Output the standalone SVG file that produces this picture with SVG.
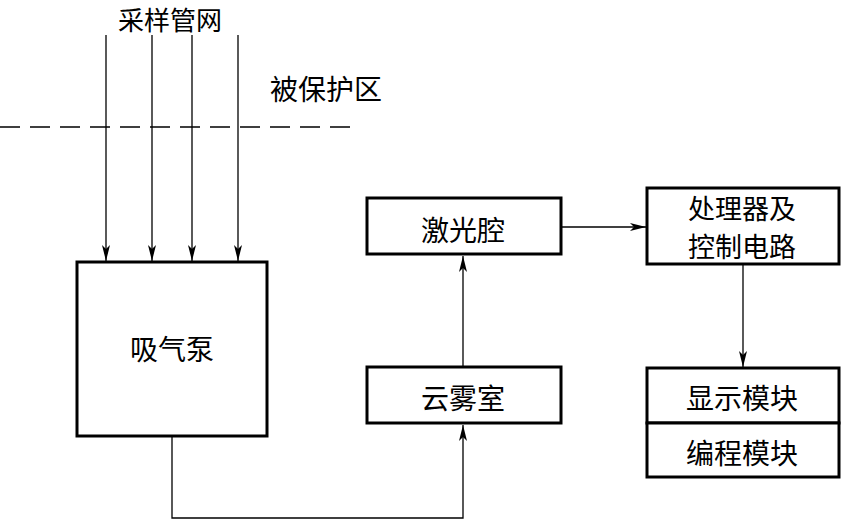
<svg xmlns="http://www.w3.org/2000/svg" width="841" height="520" viewBox="0 0 841 520">
<style>
.box{fill:#fff;stroke:#000;stroke-width:3}
.ln{fill:none;stroke:#000;stroke-width:1.3}
.t{font-family:"Noto Sans CJK SC","Noto Sans",sans-serif;font-size:28px;fill:#000;text-anchor:middle;dominant-baseline:central}
</style>
<defs>
<marker id="ah" viewBox="0 0 16 8" refX="16" refY="4" markerWidth="16" markerHeight="8" markerUnits="userSpaceOnUse" orient="auto">
<path d="M0,0 L16,4 L0,8 L4,4 Z" fill="#000"/>
</marker>
</defs>
<rect width="841" height="520" fill="#fff"/>
<text class="t" x="170" y="18" style="font-size:26px">采样管网</text>
<text class="t" x="326" y="88">被保护区</text>
<line x1="0" y1="127" x2="353" y2="127" stroke="#000" stroke-width="1.3" stroke-dasharray="20 10"/>
<g id="connectors">
<line class="ln" x1="106" y1="35" x2="106" y2="261" marker-end="url(#ah)"/>
<line class="ln" x1="152" y1="35" x2="152" y2="261" marker-end="url(#ah)"/>
<line class="ln" x1="192" y1="35" x2="192" y2="261" marker-end="url(#ah)"/>
<line class="ln" x1="238" y1="35" x2="238" y2="261" marker-end="url(#ah)"/>
<polyline class="ln" points="172,436 172,518 463,518 463,425" marker-end="url(#ah)"/>
<line class="ln" x1="463" y1="367" x2="463" y2="256" marker-end="url(#ah)"/>
<line class="ln" x1="561" y1="227" x2="646" y2="227" marker-end="url(#ah)"/>
<line class="ln" x1="743" y1="264" x2="743" y2="367" marker-end="url(#ah)"/>
</g>
<g id="pump">
<rect class="box" x="77" y="262" width="190" height="174"/>
<text class="t" x="172" y="348">吸气泵</text>
</g>
<g id="laser">
<rect class="box" x="367" y="198" width="194" height="56"/>
<text class="t" x="463" y="229">激光腔</text>
</g>
<g id="cloud">
<rect class="box" x="367" y="367" width="194" height="56"/>
<text class="t" x="463" y="397">云雾室</text>
</g>
<g id="processor">
<rect class="box" x="647" y="188" width="192" height="76"/>
<text class="t" x="742" y="207" style="font-size:27px">处理器及</text>
<text class="t" x="742" y="245" style="font-size:27px">控制电路</text>
</g>
<g id="display">
<rect class="box" x="647" y="368" width="192" height="55"/>
<text class="t" x="742" y="397">显示模块</text>
</g>
<g id="program">
<rect class="box" x="647" y="423" width="192" height="54"/>
<text class="t" x="742" y="452">编程模块</text>
</g>
</svg>
